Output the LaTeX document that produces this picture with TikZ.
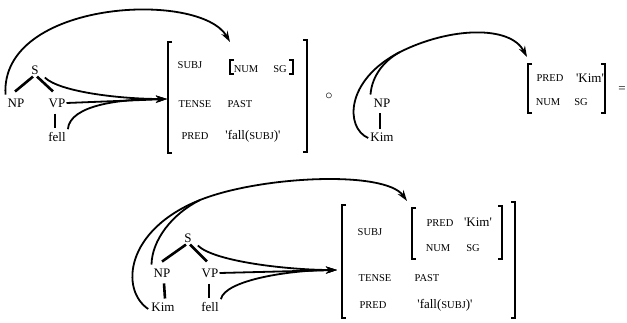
\documentclass[tikz,border=0pt]{standalone}
\usepackage{fontspec}
\setmainfont{Liberation Serif}[Ligatures=TeXOff]
\usetikzlibrary{arrows.meta}
\newcommand\LBr[3]{\draw[brk] (#1+4,#2) -- (#1,#2) -- (#1,#3) -- (#1+4,#3);}
\newcommand\RBr[3]{\draw[brk] (#1-4,#2) -- (#1,#2) -- (#1,#3) -- (#1-4,#3);}
\begin{document}
\begin{tikzpicture}[x=1pt,y=-1pt,
  lab/.style={font=\fontsize{13}{13}\selectfont, inner sep=1pt},
  att/.style={font=\fontsize{10.5}{10.5}\selectfont, inner sep=1pt},
  tree/.style={line width=2.6pt},
  brk/.style={line width=2.6pt},
  arc/.style={line width=1.8pt, -{Stealth[length=11pt,width=7pt]}},
  arcn/.style={line width=1.8pt},
]
\useasboundingbox (0,0) rectangle (627,322);

% ---------- top left ----------
\node[lab] (S1) at (35,70) {S};
\node[lab] (NP1) at (16,103) {NP};
\node[lab] (VP1) at (57,103) {VP};
\node[lab] (fell1) at (57,137) {fell};
\draw[tree] ([xshift=-2pt,yshift=-1pt]S1.south) -- ([xshift=-1pt,yshift=6pt]NP1.north);
\draw[tree] ([xshift=2pt,yshift=-1pt]S1.south) -- ([xshift=-4pt,yshift=6pt]VP1.north);
\draw[tree] ([xshift=-2pt,yshift=-5pt]VP1.south) -- ([xshift=-2pt,yshift=3pt]fell1.north);

\LBr{168}{42}{153}
\RBr{307}{40}{152}
\LBr{230}{60}{74}
\RBr{293}{60}{74}
\node[att] (subj1) at (190,65) {SUBJ};
\node[att] (num1) at (246,69) {NUM};
\node[att] (sg1) at (280,69) {SG};
\node[att] (tense1) at (195,104) {TENSE};
\node[att] (past1) at (240,104) {PAST};
\node[att] (pred1) at (195,136) {PRED};
\node[lab] (fall1) at (253,136) {'fall({\fontsize{10.5}{10.5}\selectfont SUBJ})'};

\coordinate (tipA) at (230,42);
\coordinate (tipB) at (167,99);
\draw[arc] ([xshift=-1pt,yshift=3pt]NP1.north west) .. controls (0,0) and (200,-10) .. (tipA);
\draw[arc] ([xshift=5pt,yshift=-2pt]S1.south east) .. controls (60,92) and (120,99) .. (tipB);
\draw[arc] (VP1.east) -- (tipB);
\draw[arc] ([xshift=1pt,yshift=2pt]fell1.north east) .. controls (70,105) and (120,99) .. (tipB);

% ---------- composition ----------
\node[inner sep=0pt, font=\fontsize{15}{15}\selectfont] (circ) at (329,96) {$\circ$};

% ---------- top right ----------
\node[lab] (NP2) at (382,103) {NP};
\node[lab] (Kim2) at (382,137) {Kim};
\draw[tree] ([xshift=-2pt,yshift=-5pt]NP2.south) -- ([xshift=-2pt,yshift=3pt]Kim2.north);
\coordinate (tipC) at (527,57);
\coordinate (joinC) at (400,52);
\draw[arcn] ([xshift=-1pt,yshift=-1pt]Kim2.west) .. controls (345,128) and (345,80) .. (joinC);
\draw[arcn] ([xshift=-2pt,yshift=3pt]NP2.north west) .. controls (372,75) and (385,60) .. (joinC);
\draw[arc] (joinC) .. controls (450,27) and (510,25) .. (tipC);

\LBr{528}{64}{113}
\RBr{605}{64}{113}
\node[att] (pred2) at (550,78) {PRED};
\node[lab] (kimv2) at (590,78) {'Kim'};
\node[att] (num2) at (548,102) {NUM};
\node[att] (sg2) at (581,102) {SG};
\node[lab] (eq) at (622,90) {=};

% ---------- bottom ----------
\node[lab] (S3) at (188,238) {S};
\node[lab] (NP3) at (162,273) {NP};
\node[lab] (VP3) at (210,273) {VP};
\node[lab] (Kim3) at (163,307) {Kim};
\node[lab] (fell3) at (210,307) {fell};
\draw[tree] ([xshift=-2pt,yshift=-1pt]S3.south) -- ([xshift=0pt,yshift=6pt]NP3.north);
\draw[tree] ([xshift=2pt,yshift=-1pt]S3.south) -- ([xshift=-3pt,yshift=6pt]VP3.north);
\draw[tree] ([xshift=2pt,yshift=-5pt]NP3.south) -- ([xshift=2pt,yshift=3pt]Kim3.north);
\draw[tree] ([xshift=-1pt,yshift=-5pt]VP3.south) -- ([xshift=-1pt,yshift=3pt]fell3.north);

\coordinate (joinD) at (200,200);
\coordinate (tipD) at (407,201);
\coordinate (tipE) at (337,270);
\draw[arcn] ([xshift=-2pt,yshift=-2pt]Kim3.west) .. controls (120,290) and (125,230) .. (joinD);
\draw[arcn] ([xshift=-1pt,yshift=3pt]NP3.north west) .. controls (152,240) and (172,214) .. (joinD);
\draw[arc] (joinD) .. controls (260,176) and (385,170) .. (tipD);
\draw[arc] ([xshift=5pt,yshift=-2pt]S3.south east) .. controls (215,262) and (290,270) .. (tipE);
\draw[arc] (VP3.east) -- (tipE);
\draw[arc] ([xshift=1pt,yshift=2pt]fell3.north east) .. controls (225,280) and (290,270) .. (tipE);

\LBr{342}{205}{318}
\RBr{515}{202}{318}
\LBr{412}{208}{259}
\RBr{502}{206}{259}
\node[att] (subj3) at (370,232) {SUBJ};
\node[att] (pred3a) at (440,223) {PRED};
\node[lab] (kimv3) at (478,222) {'Kim'};
\node[att] (num3) at (438,248) {NUM};
\node[att] (sg3) at (473,248) {SG};
\node[att] (tense3) at (375,278) {TENSE};
\node[att] (past3) at (427,278) {PAST};
\node[att] (pred3) at (373,305) {PRED};
\node[lab] (fall3) at (445,305) {'fall({\fontsize{10.5}{10.5}\selectfont SUBJ})'};
\end{tikzpicture}
\end{document}
